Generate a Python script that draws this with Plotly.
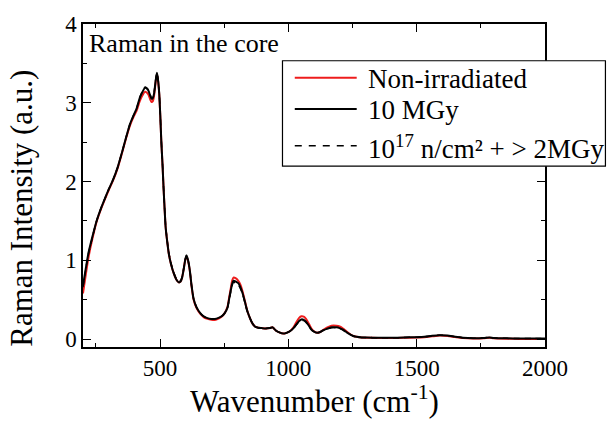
import plotly.graph_objects as go

# Raman spectra measured in the fibre core
wavenumber = [200, 210, 221, 235, 253, 270, 286, 300, 318, 335, 351, 367, 383, 397, 409, 420,
              429, 442, 454, 462, 467, 472, 477, 483, 488, 492, 497, 501, 505, 510, 514, 518,
              522, 528, 534, 543, 553, 563, 573, 580, 586, 592, 598, 603, 608, 616, 623, 631,
              643, 657, 670, 682, 700, 720, 740, 752, 763, 770, 776, 781, 786, 796, 805, 812,
              822, 831, 840, 850, 860, 870, 883, 896, 912, 928, 938, 945, 951, 965, 980, 993,
              1006, 1020, 1032, 1042, 1051, 1060, 1068, 1080, 1090, 1100, 1112, 1124, 1135, 1150, 1168, 1187,
              1200, 1213, 1226, 1240, 1253, 1266, 1285, 1305, 1350, 1400, 1450, 1500, 1530, 1560, 1589, 1620,
              1650, 1680, 1720, 1760, 1784, 1800, 1850, 1900, 1950, 2000]

non_irradiated = [0.58, 0.80, 1.03, 1.25, 1.49, 1.65, 1.78, 1.89, 2.02, 2.17, 2.35, 2.54, 2.71, 2.82, 2.90, 3.01,
                  3.08, 3.14, 3.11, 3.04, 3.01, 3.02, 3.09, 3.26, 3.36, 3.29, 3.11, 2.84, 2.52, 2.20, 1.91, 1.65,
                  1.42, 1.24, 1.09, 0.95, 0.84, 0.76, 0.72, 0.73, 0.78, 0.88, 1.00, 1.05, 1.01, 0.87, 0.67, 0.50,
                  0.39, 0.32, 0.28, 0.26, 0.245, 0.25, 0.285, 0.33, 0.41, 0.54, 0.65, 0.74, 0.78, 0.77, 0.74, 0.70,
                  0.60, 0.48, 0.36, 0.27, 0.20, 0.16, 0.145, 0.14, 0.135, 0.14, 0.15, 0.13, 0.11, 0.085, 0.07, 0.08,
                  0.10, 0.15, 0.22, 0.27, 0.29, 0.285, 0.26, 0.195, 0.135, 0.10, 0.08, 0.09, 0.115, 0.145, 0.17, 0.17,
                  0.16, 0.135, 0.10, 0.065, 0.04, 0.03, 0.02, 0.018, 0.015, 0.014, 0.016, 0.02, 0.025, 0.035, 0.045, 0.04,
                  0.026, 0.014, 0.008, 0.01, 0.016, 0.01, 0.005, 0.003, 0.002, 0.003]

dose_10mgy = [0.68, 0.88, 1.09, 1.28, 1.50, 1.66, 1.79, 1.90, 2.03, 2.18, 2.36, 2.55, 2.73, 2.84, 2.93, 3.05,
              3.12, 3.19, 3.16, 3.09, 3.05, 3.06, 3.12, 3.28, 3.38, 3.30, 3.12, 2.85, 2.52, 2.20, 1.91, 1.65,
              1.42, 1.24, 1.09, 0.95, 0.84, 0.76, 0.72, 0.73, 0.78, 0.88, 1.00, 1.06, 1.02, 0.88, 0.68, 0.51,
              0.40, 0.33, 0.29, 0.27, 0.255, 0.26, 0.29, 0.33, 0.40, 0.52, 0.62, 0.70, 0.74, 0.73, 0.71, 0.67,
              0.58, 0.47, 0.36, 0.27, 0.20, 0.16, 0.145, 0.14, 0.135, 0.14, 0.15, 0.13, 0.11, 0.085, 0.07, 0.08,
              0.10, 0.14, 0.19, 0.23, 0.25, 0.245, 0.225, 0.17, 0.12, 0.095, 0.08, 0.09, 0.11, 0.13, 0.15, 0.15,
              0.14, 0.12, 0.09, 0.06, 0.04, 0.03, 0.022, 0.02, 0.018, 0.017, 0.02, 0.025, 0.03, 0.042, 0.05, 0.045,
              0.03, 0.018, 0.012, 0.015, 0.022, 0.015, 0.01, 0.008, 0.007, 0.008]

neutron_dose = [0.66, 0.87, 1.08, 1.27, 1.50, 1.66, 1.79, 1.90, 2.03, 2.18, 2.36, 2.55, 2.73, 2.84, 2.93, 3.06,
                3.13, 3.20, 3.17, 3.10, 3.06, 3.07, 3.13, 3.29, 3.38, 3.31, 3.13, 2.86, 2.53, 2.21, 1.92, 1.66,
                1.43, 1.25, 1.10, 0.96, 0.85, 0.77, 0.73, 0.74, 0.79, 0.89, 1.01, 1.06, 1.02, 0.88, 0.68, 0.51,
                0.40, 0.33, 0.29, 0.27, 0.255, 0.26, 0.29, 0.33, 0.40, 0.51, 0.61, 0.68, 0.72, 0.71, 0.69, 0.65,
                0.57, 0.46, 0.35, 0.27, 0.20, 0.16, 0.145, 0.14, 0.135, 0.14, 0.15, 0.13, 0.11, 0.085, 0.07, 0.08,
                0.10, 0.14, 0.185, 0.225, 0.24, 0.235, 0.215, 0.165, 0.12, 0.095, 0.08, 0.09, 0.11, 0.13, 0.145, 0.145,
                0.135, 0.115, 0.085, 0.06, 0.04, 0.03, 0.022, 0.02, 0.018, 0.017, 0.02, 0.025, 0.03, 0.042, 0.05, 0.045,
                0.03, 0.018, 0.012, 0.015, 0.022, 0.015, 0.01, 0.008, 0.007, 0.008]

series_names = ["Non-irradiated", "10 MGy", "10<sup>17</sup> n/cm² + &gt; 2MGy"]

FONT = "'Liberation Serif', 'Times New Roman', 'DejaVu Serif', serif"
W, H = 611, 421
L, R, T, B = 83, 65.5, 13, 74
PW, PH = W - L - R, H - T - B


def px(x):
    """pixel column -> paper x"""
    return (x - L) / PW


def py(y):
    """pixel row -> paper y"""
    return (H - B - y) / PH


fig = go.Figure()
fig.add_trace(go.Scatter(x=wavenumber, y=non_irradiated, mode="lines", name=series_names[0],
                         line=dict(color="#ee1c1c", width=2, shape="spline", smoothing=0.6)))
fig.add_trace(go.Scatter(x=wavenumber, y=dose_10mgy, mode="lines", name=series_names[1],
                         line=dict(color="black", width=2, shape="spline", smoothing=0.6)))
fig.add_trace(go.Scatter(x=wavenumber, y=neutron_dose, mode="lines", name=series_names[2],
                         line=dict(color="black", width=1.5, dash="6px,5px", shape="spline", smoothing=0.6)))

axis_common = dict(
    showline=True, linecolor="black", linewidth=1.5, mirror="allticks",
    ticks="inside", ticklen=8, tickwidth=1.2, tickcolor="black",
    showgrid=False, zeroline=False,
    tickfont=dict(family=FONT, size=23, color="black"),
)

fig.update_xaxes(range=[200, 2000], tick0=0, dtick=500,
                 minor=dict(dtick=250, ticks="inside", ticklen=4, tickwidth=1.2, tickcolor="black"),
                 **axis_common)
fig.update_yaxes(range=[-0.1, 4], tick0=0, dtick=1,
                 minor=dict(dtick=0.5, ticks="inside", ticklen=4, tickwidth=1.2, tickcolor="black"),
                 **axis_common)

# legend box drawn by hand so the line samples can be long
legend_rows = [68.5, 101, 139]
legend_styles = [dict(color="#ee1c1c", width=2), dict(color="black", width=2),
                 dict(color="black", width=1.5, dash="7px,7px")]
shapes = [dict(type="rect", xref="paper", yref="paper", layer="above",
               x0=px(282.7), x1=px(606), y0=py(160), y1=py(51),
               line=dict(color="black", width=1.2), fillcolor="white")]
annotations = []
for row, style, name in zip(legend_rows, legend_styles, series_names):
    shapes.append(dict(type="line", xref="paper", yref="paper", layer="above",
                       x0=px(295), x1=px(357), y0=py(row), y1=py(row), line=style))
    annotations.append(dict(text=name, xref="paper", yref="paper", x=px(366), y=py(row + 1),
                            xanchor="left", yanchor="middle", showarrow=False,
                            font=dict(family=FONT, size=27, color="black")))

annotations.append(dict(text="Raman in the core", xref="paper", yref="paper", x=px(87), y=py(33),
                        xanchor="left", yanchor="middle", showarrow=False,
                        font=dict(family=FONT, size=26, color="black")))
annotations.append(dict(text="Wavenumber (cm<sup>-1</sup>)", xref="paper", yref="paper", x=0.5, y=py(401),
                        xanchor="center", yanchor="middle", showarrow=False,
                        font=dict(family=FONT, size=31, color="black")))
annotations.append(dict(text="Raman Intensity (a.u.)", xref="paper", yref="paper", x=px(22), y=py(204),
                        xanchor="center", yanchor="middle", showarrow=False, textangle=-90,
                        font=dict(family=FONT, size=31, color="black")))

fig.update_layout(
    width=W, height=H,
    margin=dict(l=L, r=R, t=T, b=B),
    paper_bgcolor="white", plot_bgcolor="white",
    showlegend=False,
    shapes=shapes, annotations=annotations,
    font=dict(family=FONT, color="black"),
)

fig.write_html("out.html")
